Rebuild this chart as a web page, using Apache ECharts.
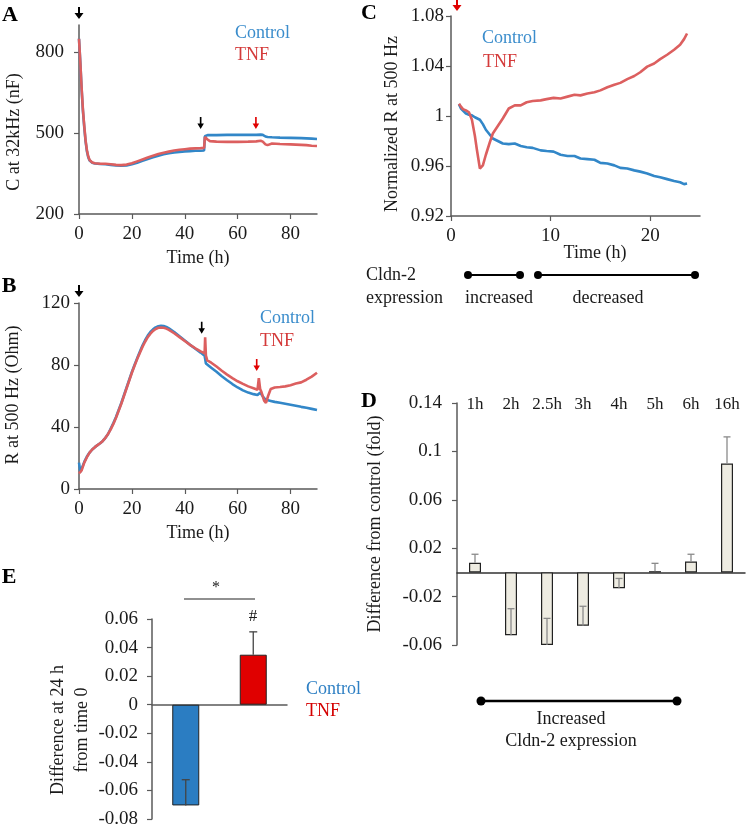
<!DOCTYPE html>
<html>
<head>
<meta charset="utf-8">
<script src="https://cdn.jsdelivr.net/npm/echarts@6/dist/echarts.min.js"></script>
<style>html,body{margin:0;padding:0;background:#fff}#c{width:746px;height:832px}</style>
</head>
<body>
<div id="c"></div>
<script>
// ---------- Panel A: C at 32kHz (nF) ----------
const aTime = [0,0.5,1,1.5,2,2.5,3,3.5,4,5, 6,8,10,12,14,16,18,20,22,24, 26,28,30,32,34,36,38,40,42,44, 46,47.3,47.6,48,48.6,49.5,52,56,60,64, 67,68.7,69.5,70.5,71.3,72,73,76,80,84, 86,88,90];
const aControl = [849,760,660,580,520,468,432,410,398,390, 387,385,384,382,380,379,380,384,390,397, 404,410,416,421,425,428,430,432,433,434, 434,435,488,491,492,492,492,493,493,493, 493,494,493,487,485,484,484,483,482,481, 480,479,478];
const aTNF = [849,762,665,585,525,472,436,413,400,391, 388,386,386,384,382,381,383,388,395,402, 409,416,422,427,431,435,438,440,442,443, 444,445,485,490,476,470,468,467,467,468, 469,471,468,458,455,459,461,459,458,456, 455,453,452];
const aXTicks = [0,20,40,60,80];
const aYTicks = [200,500,800];
const aArrowsBlack = [[46,537]];
const aArrowsRed = [[66.9,537]];

// ---------- Panel B: R at 500 Hz (Ohm) ----------
const bTime = [0,0.5,1,2,3,4,5,6,7,8, 9,10,11,12,13,14,15,16,17,18, 19,20,21,22,23,24,25,26,27,28, 29,30,31,32,33,34,36,38,40,42, 44,46,47.5,47.7,48,48.5,50,52,54,56, 58,60,62,64,66,67.5,68,68.5,69,70, 70.7,71.5,72.5,74,76,78,80,82,84,86, 88,90];
const bControl = [17,11,12,17.5,21,23.5,25.5,27,28.3,29.5, 31,33,35.5,39,42.5,46.5,51,55.5,60.5,65.5, 70.5,75.5,80,84.3,88.5,92.5,96,99,101.3,103, 104.3,105,105.3,105.2,104.6,103.6,101.3,98.6,95.8,93, 90.5,88,86,84,81,80.5,78.2,75.6,72.8,70.2, 67.7,65.5,63.6,62.2,61.2,60.6,61.5,62.2,61.2,58.5, 57.6,57.2,56.8,56.2,55.6,55,54.4,53.7,53,52.4, 51.7,51];
const bTNF = [10,10.5,12,17,20.5,23.5,25.5,27,28.3,29.5, 31,33,35.5,38.5,42,46,50.5,55,60,65, 70,75,79.5,83.8,87.8,91.7,95,98,100.2,102, 103.2,104,104.2,104,103.5,102.7,100.5,98,95.5,93, 90.8,88.8,87.5,97.8,86,83,81.5,79,76.3,73.8, 71.5,69.5,67.8,66.2,65,64,71.5,64.5,62.5,57, 55.5,60,64.5,65.5,65.8,66.2,67,68,68.8,70.5, 72.5,75];
const bXTicks = [0,20,40,60,80];
const bArrowsBlack = [[46.4,104]];
const bArrowsRed = [[67.2,80]];

// ---------- Panel C: Normalized R at 500 Hz ----------
const cTime = [0.8,1.0,1.2,1.5,1.8,2.1,2.4,2.6,2.9,3.2, 3.5,3.9,4.2,4.7,5.2,5.8,6.4,7,7.6,8.2, 9,9.6,10.3,11,11.7,12.4,13,13.7,14.4,15, 15.7,16.4,17,17.7,18.4,19,19.7,20.4,21,21.7, 22.4,23,23.4,23.7];
const cControl = [1.0095,1.006,1.0045,1.002,1.001,1.0005,0.999,0.998,0.997,0.9935, 0.989,0.985,0.982,0.98,0.978,0.9775,0.978,0.976,0.975,0.9745, 0.9725,0.972,0.9715,0.969,0.968,0.968,0.966,0.9655,0.965,0.9625, 0.962,0.9605,0.9585,0.958,0.9565,0.9555,0.954,0.952,0.951,0.9495, 0.948,0.947,0.9455,0.946];
const cTNF = [1.0098,1.0075,1.0055,1.0045,1.003,0.997,0.984,0.973,0.958,0.9605, 0.969,0.979,0.986,0.992,0.998,1.006,1.0085,1.0085,1.011,1.012, 1.0125,1.0135,1.0145,1.014,1.0155,1.017,1.0165,1.018,1.019,1.0205, 1.023,1.025,1.0265,1.0295,1.032,1.035,1.0395,1.042,1.0455,1.049, 1.053,1.057,1.0615,1.066];
const cXTicks = [0,10,20];

// ---------- Panel D: Difference from control (fold) ----------
const dCategories = ['1h','2h','2.5h','3h','4h','5h','6h','16h'];
const dValues = [0.008,-0.052,-0.060,-0.044,-0.013,0.001,0.009,0.090];
const dErrors = [0.007,0.022,0.022,0.016,0.008,0.0065,0.006,0.022];
const dYTicks = [-0.06,-0.02,0.02,0.06,0.1,0.14];

// ---------- Panel E: Difference at 24 h from time 0 ----------
const eCategories = ['Control','TNF'];
const eValues = [-0.0705,0.035];
const eErrors = [0.018,0.016];

// ---------- styling ----------
const FONT = "'Liberation Serif','Times New Roman',serif";
const TXT = '#1a1a1a';
const AX = '#5a5a5a';
const BLUE = '#3287c8';
const RED = '#dc5f5f';
const BLUE_T = '#3b8dcc';
const RED_T = '#d43a3a';
const ARROW = 'path://M3,0L5,0L5,6L8,6L4,11L0,6L3,6Z';

const pairs = (t, v) => t.map((x, i) => [x, v[i]]);

function valAxis(grid, opt) {
  return Object.assign({
    type: 'value', gridIndex: grid, scale: false,
    axisLine: {show: true, onZero: false, lineStyle: {color: AX, width: 1.5}},
    axisTick: {show: true, length: 5, lineStyle: {color: AX, width: 1.2}},
    axisLabel: {color: TXT, fontFamily: FONT, fontSize: 19, margin: 10},
    splitLine: {show: false}
  }, opt);
}
function withTicks(ax, ticks, margin) {
  ax.axisLabel = Object.assign({}, ax.axisLabel, {customValues: ticks});
  if (margin !== undefined) ax.axisLabel.margin = margin;
  ax.axisTick = Object.assign({}, ax.axisTick, {customValues: ticks});
  return ax;
}

function lineSeries(name, xi, yi, data, color, arrows, arrowColor) {
  const s = {
    name, type: 'line', xAxisIndex: xi, yAxisIndex: yi, data, clip: false,
    showSymbol: false, symbol: 'none', smooth: false,
    lineStyle: {color, width: 2.6}, itemStyle: {color}, silent: true
  };
  if (arrows && arrows.length) {
    s.markPoint = {
      symbol: ARROW, symbolSize: [9, 12], symbolKeepAspect: true,
      label: {show: false}, itemStyle: {color: arrowColor}, silent: true,
      data: arrows.map(a => ({coord: a}))
    };
  }
  return s;
}

function errorSeries(xi, yi, cats, vals, errs, color, half, width) {
  return {
    type: 'custom', xAxisIndex: xi, yAxisIndex: yi, z: 5, silent: true,
    data: cats.map((c, i) => [i, vals[i], errs[i]]),
    renderItem: function (params, api) {
      const x = api.value(0), v = api.value(1), e = api.value(2);
      const p0 = api.coord([x, v]);
      const p1 = api.coord([x, v + e]);
      const st = {stroke: color, lineWidth: width};
      return {type: 'group', children: [
        {type: 'line', shape: {x1: p0[0], y1: p0[1], x2: p1[0], y2: p1[1]}, style: st},
        {type: 'line', shape: {x1: p1[0] - half, y1: p1[1], x2: p1[0] + half, y2: p1[1]}, style: st}
      ]};
    }
  };
}

function txt(x, y, text, opt) {
  return {type: 'text', x, y, silent: true,
    style: Object.assign({text, fill: TXT, font: '18px ' + FONT, textAlign: 'center', textVerticalAlign: 'middle'}, opt || {})};
}
function vtxt(x, y, text, opt) {
  const t = txt(x, y, text, opt);
  t.rotation = Math.PI / 2;
  return t;
}
function dotLine(x1, x2, y, r, w) {
  return [
    {type: 'line', silent: true, shape: {x1, y1: y, x2, y2: y}, style: {stroke: '#000', lineWidth: w}},
    {type: 'circle', silent: true, shape: {cx: x1, cy: y, r}, style: {fill: '#000'}},
    {type: 'circle', silent: true, shape: {cx: x2, cy: y, r}, style: {fill: '#000'}}
  ];
}
// annotation arrow above the plot frame (treatment marker at time 0)
function arrowGfx(cx, cy, color) {
  return {type: 'polygon', silent: true,
    shape: {points: [[cx - 1, cy - 6], [cx + 1, cy - 6], [cx + 1, cy], [cx + 4.5, cy], [cx, cy + 6], [cx - 4.5, cy], [cx - 1, cy]]},
    style: {fill: color}};
}
const BOLD = 'bold 22px ' + FONT;

const chart = echarts.init(document.getElementById('c'), null, {renderer: 'canvas'});
chart.setOption({
  animation: false,
  backgroundColor: '#fff',
  grid: [
    {left: 79, top: 25, width: 238, height: 189},
    {left: 79, top: 303, width: 238, height: 186},
    {left: 451, top: 16, width: 249, height: 200},
    {left: 457, top: 403, width: 288, height: 242},
    {left: 152, top: 619, width: 135, height: 200}
  ],
  xAxis: [
    withTicks(valAxis(0, {min: 0, max: 90}), aXTicks, 11),
    withTicks(valAxis(1, {min: 0, max: 90}), bXTicks, 11),
    withTicks(valAxis(2, {min: 0, max: 25}), cXTicks, 11),
    {type: 'category', gridIndex: 3, data: dCategories, position: 'bottom',
      axisLine: {show: true, onZero: true, lineStyle: {color: '#333', width: 1.5}},
      axisTick: {show: false}, axisLabel: {show: false}, splitLine: {show: false}},
    {type: 'category', gridIndex: 3, data: dCategories, position: 'top',
      axisLine: {show: false, onZero: false}, axisTick: {show: false},
      axisLabel: {show: true, interval: 0, hideOverlap: false, color: TXT, fontFamily: FONT, fontSize: 17, margin: -2, verticalAlign: 'middle'},
      splitLine: {show: false}},
    {type: 'category', gridIndex: 4, data: eCategories,
      axisLine: {show: true, onZero: true, lineStyle: {color: AX, width: 1.5}},
      axisTick: {show: false}, axisLabel: {show: false}, splitLine: {show: false}}
  ],
  yAxis: [
    withTicks(valAxis(0, {min: 200, max: 900}), aYTicks, 15),
    valAxis(1, {min: 0, max: 120, interval: 40, axisLabel: {color: TXT, fontFamily: FONT, fontSize: 19, margin: 9}}),
    valAxis(2, {min: 0.92, max: 1.08, interval: 0.04, axisLabel: {color: TXT, fontFamily: FONT, fontSize: 19, margin: 7}}),
    withTicks(valAxis(3, {min: -0.06, max: 0.14}), dYTicks, 15),
    valAxis(4, {min: -0.08, max: 0.06, interval: 0.02, axisLabel: {color: TXT, fontFamily: FONT, fontSize: 19, margin: 14}})
  ],
  series: [
    lineSeries('Control', 0, 0, pairs(aTime, aControl), BLUE, aArrowsBlack, '#000'),
    lineSeries('TNF', 0, 0, pairs(aTime, aTNF), RED, aArrowsRed, '#e00000'),
    lineSeries('Control', 1, 1, pairs(bTime, bControl), BLUE, bArrowsBlack, '#000'),
    lineSeries('TNF', 1, 1, pairs(bTime, bTNF), RED, bArrowsRed, '#e00000'),
    lineSeries('Control', 2, 2, pairs(cTime, cControl), BLUE, null, null),
    lineSeries('TNF', 2, 2, pairs(cTime, cTNF), RED, null, null),
    {type: 'bar', xAxisIndex: 3, yAxisIndex: 3, data: dValues, barWidth: 12, silent: true,
      itemStyle: {color: '#eeece2', borderColor: '#222', borderWidth: 1.2}},
    errorSeries(3, 3, dCategories, dValues, dErrors, '#8a8a8a', 3.5, 1.3),
    {type: 'bar', xAxisIndex: 5, yAxisIndex: 4, barWidth: 27, silent: true,
      data: eValues.map((v, i) => ({value: v, itemStyle: {color: i === 0 ? '#2b7dc2' : '#e00000'}})),
      itemStyle: {borderColor: '#222', borderWidth: 1}},
    errorSeries(5, 4, eCategories, eValues, eErrors, '#444', 4, 1.3)
  ],
  graphic: [
    // panel letters
    txt(10, 15, 'A', {font: BOLD, fill: '#000'}),
    txt(9, 286, 'B', {font: BOLD, fill: '#000'}),
    txt(369, 13, 'C', {font: BOLD, fill: '#000'}),
    txt(369, 401, 'D', {font: BOLD, fill: '#000'}),
    txt(9, 577, 'E', {font: BOLD, fill: '#000'}),
    // time-0 arrows above the frames
    arrowGfx(79, 13, '#000'),
    arrowGfx(79, 291, '#000'),
    arrowGfx(457, 5, '#e00000'),
    // axis titles
    vtxt(14, 132, 'C at 32kHz (nF)'),
    txt(198, 258, 'Time (h)'),
    vtxt(13, 395, 'R at 500 Hz (Ohm)'),
    txt(198, 533, 'Time (h)'),
    vtxt(392, 124, 'Normalized R at 500 Hz'),
    txt(595, 253, 'Time (h)'),
    vtxt(375, 524, 'Difference from control (fold)'),
    vtxt(70, 730, 'Difference at 24 h\nfrom time 0', {lineHeight: 24}),
    // legends
    txt(235, 33, 'Control', {fill: BLUE_T, textAlign: 'left'}),
    txt(235, 55, 'TNF', {fill: RED_T, textAlign: 'left'}),
    txt(260, 318, 'Control', {fill: BLUE_T, textAlign: 'left'}),
    txt(260, 341, 'TNF', {fill: RED_T, textAlign: 'left'}),
    txt(482, 38, 'Control', {fill: BLUE_T, textAlign: 'left'}),
    txt(483, 62, 'TNF', {fill: RED_T, textAlign: 'left'}),
    txt(306, 689, 'Control', {fill: '#2f80c4', textAlign: 'left'}),
    txt(306, 711, 'TNF', {fill: '#d40000', textAlign: 'left'}),
    // Cldn-2 annotation under C
    txt(366, 275, 'Cldn-2', {textAlign: 'left'}),
    txt(366, 298, 'expression', {textAlign: 'left'}),
    ...dotLine(468, 520, 275, 4, 2.2),
    ...dotLine(538, 695, 275, 4, 2.2),
    txt(499, 298, 'increased'),
    txt(608, 298, 'decreased'),
    // annotation under D
    ...dotLine(481, 677, 701, 4.5, 2.5),
    txt(571, 719, 'Increased'),
    txt(571, 741, 'Cldn-2 expression'),
    // significance marks in E
    {type: 'line', silent: true, shape: {x1: 184, y1: 599, x2: 255, y2: 599}, style: {stroke: '#222', lineWidth: 1.2}},
    txt(216, 588, '*', {font: '16px ' + FONT}),
    txt(253, 617, '#', {font: '17px ' + FONT})
  ]
});
</script>
</body>
</html>
